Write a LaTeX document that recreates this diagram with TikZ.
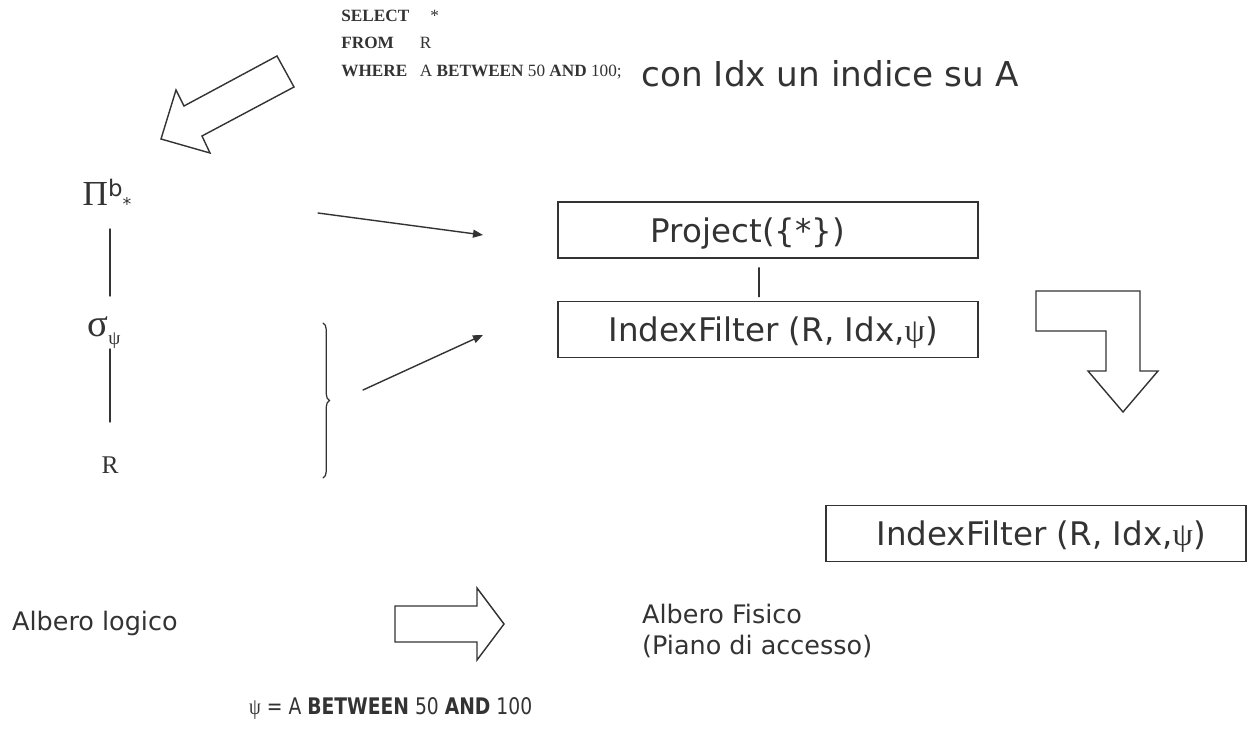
\documentclass[tikz,border=0pt]{standalone}
\usepackage{fontspec}
\setmainfont{DejaVu Sans}
\newfontfamily\tnr{Liberation Serif}
\usetikzlibrary{arrows.meta,decorations.pathreplacing}
\definecolor{ink}{HTML}{333333}
\tikzset{
  hollow/.style={draw=ink, line width=0.8pt, line join=miter, fill=white},
  opbox/.style={draw=ink, line width=0.9pt, minimum width=8.4cm, minimum height=1.12cm, inner sep=0pt, text depth=0pt, font=\fontsize{18.5}{21}\selectfont},
  comic/.style={font=\fontsize{14.5}{17.6}\selectfont},
  tree/.style={draw=ink, line width=0.8pt}
}
\begin{document}
\begin{tikzpicture}[x=0.02cm, y=-0.02cm, line cap=round, >={Triangle[length=0.2cm,width=0.16cm]}, every node/.style={text=ink}]
\useasboundingbox (0,0) rectangle (1252,743);
\node[anchor=north west, inner sep=0pt, font=\tnr\fontsize{9.8}{15.6}\selectfont] (sql) at (341,2) {\begin{tabular}{@{}l@{\hspace{6pt}}l@{}}\textbf{SELECT} & \hspace{6pt}*\\ \textbf{FROM} & R\\ \textbf{WHERE} & A \textbf{BETWEEN} 50 \textbf{AND} 100;\end{tabular}};
\node[font=\fontsize{19.5}{22}\selectfont] (note) at (830,74) {con Idx un indice su A};
\draw[hollow] (277,56)--(294,87)--(202,136)--(210,153)--(161,139)--(176,90)--(184,106)--cycle;

\node[inner sep=1pt] (pi) at (107,195) {{\tnr\fontsize{20}{22}\selectfont Π}\raisebox{0.9ex}{\fontsize{13}{15}\selectfont b}\raisebox{-0.5ex}{\fontsize{10}{12}\selectfont *}};
\node[inner sep=1pt] (sigma) at (104,333) {{\tnr\fontsize{22}{24}\selectfont σ}\raisebox{-0.8ex}{\tnr\fontsize{11}{12}\selectfont ψ}};
\node[font=\tnr\fontsize{14.5}{16}\selectfont] (r) at (110,465) {R};
\draw[tree, shorten <=0.68cm, shorten >=0.74cm] (pi.center -| r) -- (sigma.center -| r);
\draw[tree, shorten <=0.32cm, shorten >=0.86cm] (sigma.center -| r) -- (r.center);
\coordinate (bt) at (323,323);
\coordinate (bb) at (323,478);
\draw[tree, line width=0.7pt, decorate, decoration={brace, amplitude=0.13cm}] (bt) -- (bb);

\node[opbox] (proj) at (768,230) {Project(\{*\})\rule{0.8cm}{0pt}};
\node[opbox] (ixf) at (768,329.5) {\ IndexFilter (R, Idx,{\tnr ψ})};
\draw[tree, shorten <=0.18cm, shorten >=0.08cm] ([xshift=-0.18cm]proj.south) -- ([xshift=-0.18cm]ixf.north);
\coordinate (a1) at (318,213);
\coordinate (b1) at (483,235);
\coordinate (a2) at (363,390);
\coordinate (b2) at (483,335);
\draw[tree, ->] (a1) -- (b1);
\draw[tree, ->] (a2) -- (b2);

\draw[hollow] (1036,291)--(1140,291)--(1140,371)--(1158,371)--(1123,412)--(1088,371)--(1106,371)--(1106,331)--(1036,331)--cycle;
\node[opbox] (ixf2) at (1036,533.5) {\ IndexFilter (R, Idx,{\tnr ψ})};

\node[comic, anchor=west] (logico) at (6,623) {Albero logico};
\draw[hollow] (395,606)--(477,606)--(477,588)--(504,624)--(477,660)--(477,642)--(395,642)--cycle;
\node[comic, anchor=west, align=left] (fisico) at (636,631) {Albero Fisico\\(Piano di accesso)};
\node[anchor=west, font=\fontsize{13}{16}\selectfont] (psi) at (243,708) {\scalebox{0.82}[1]{{\tnr ψ} = A \textbf{BETWEEN} 50 \textbf{AND} 100}};
\end{tikzpicture}
\end{document}
